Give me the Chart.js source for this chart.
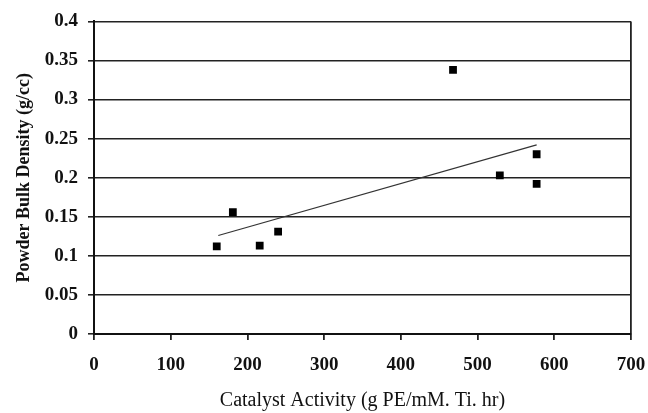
<!DOCTYPE html>
<html>
<head>
<meta charset="utf-8">
<script src="https://cdn.jsdelivr.net/npm/chart.js@4/dist/chart.umd.min.js"></script>
<style>
  html, body { margin: 0; padding: 0; background: #fff; }
  #wrap { width: 648px; height: 413px; }
</style>
</head>
<body>
<div id="wrap"><canvas id="density"></canvas></div>
<script>
// catalyst activity (g PE/mM Ti hr) vs powder bulk density (g/cc)
const activity = [160, 181, 216, 240, 468, 529, 577, 577];
const density = [0.112, 0.156, 0.113, 0.131, 0.338, 0.203, 0.230, 0.192];

// linear trend line end points
const trendX = [162, 577];
const trendY = [0.126, 0.242];

const serif = "'Liberation Serif', 'Times New Roman', serif";

document.addEventListener("DOMContentLoaded", function () {
    const ctx = document.getElementById("density").getContext("2d");
    new Chart(ctx, {
        type: "scatter",
        data: {
            datasets: [
                {
                    label: "Bulk density",
                    data: activity.map((x, i) => ({ x: x, y: density[i] })),
                    pointStyle: "rect",
                    pointRadius: 5.5,
                    backgroundColor: "#000",
                    borderColor: "#000",
                    borderWidth: 0,
                },
                {
                    label: "Linear fit",
                    data: trendX.map((x, i) => ({ x: x, y: trendY[i] })),
                    showLine: true,
                    pointRadius: 0,
                    borderColor: "#333",
                    borderWidth: 1.2,
                    fill: false,
                },
            ],
        },
        options: {
            responsive: true,
            maintainAspectRatio: false,
            animation: false,
            layout: { padding: { top: 19, right: 17, left: 0, bottom: 0 } },
            plugins: {
                legend: { display: false },
                tooltip: { enabled: false },
            },
            scales: {
                x: {
                    type: "linear",
                    position: "bottom",
                    min: 0,
                    max: 700,
                    ticks: {
                        stepSize: 100,
                        color: "#111",
                        padding: 14,
                        font: { family: serif, size: 19, weight: "bold" },
                    },
                    grid: {
                        color: (c) => (c.tick && c.tick.value === 700 ? "#222" : "transparent"),
                        lineWidth: 1.8,
                        tickColor: "#222",
                        tickLength: 6,
                    },
                    border: { display: true, color: "#111", width: 2 },
                    title: {
                        display: true,
                        text: "Catalyst Activity (g PE/mM. Ti. hr)",
                        color: "#111",
                        font: { family: serif, size: 20 },
                        padding: { top: 8, bottom: 0 },
                    },
                    afterFit: (scale) => {
                        scale.height = 79;
                        scale.paddingRight = 0;
                    },
                },
                y: {
                    min: 0,
                    max: 0.4,
                    ticks: {
                        stepSize: 0.05,
                        color: "#111",
                        padding: 10,
                        font: { family: serif, size: 19, weight: "bold" },
                        callback: (v) => String(+v.toFixed(2)),
                    },
                    grid: {
                        color: "#222",
                        lineWidth: 1.6,
                        tickColor: "#222",
                        tickLength: 6,
                    },
                    border: { display: true, color: "#111", width: 2 },
                    title: {
                        display: true,
                        text: "Powder Bulk Density (g/cc)",
                        color: "#111",
                        font: { family: serif, size: 18, weight: "bold" },
                        padding: { top: 14, bottom: 0 },
                    },
                    afterFit: (scale) => { scale.width = 94; },
                },
            },
        },
    });
});
</script>
</body>
</html>
